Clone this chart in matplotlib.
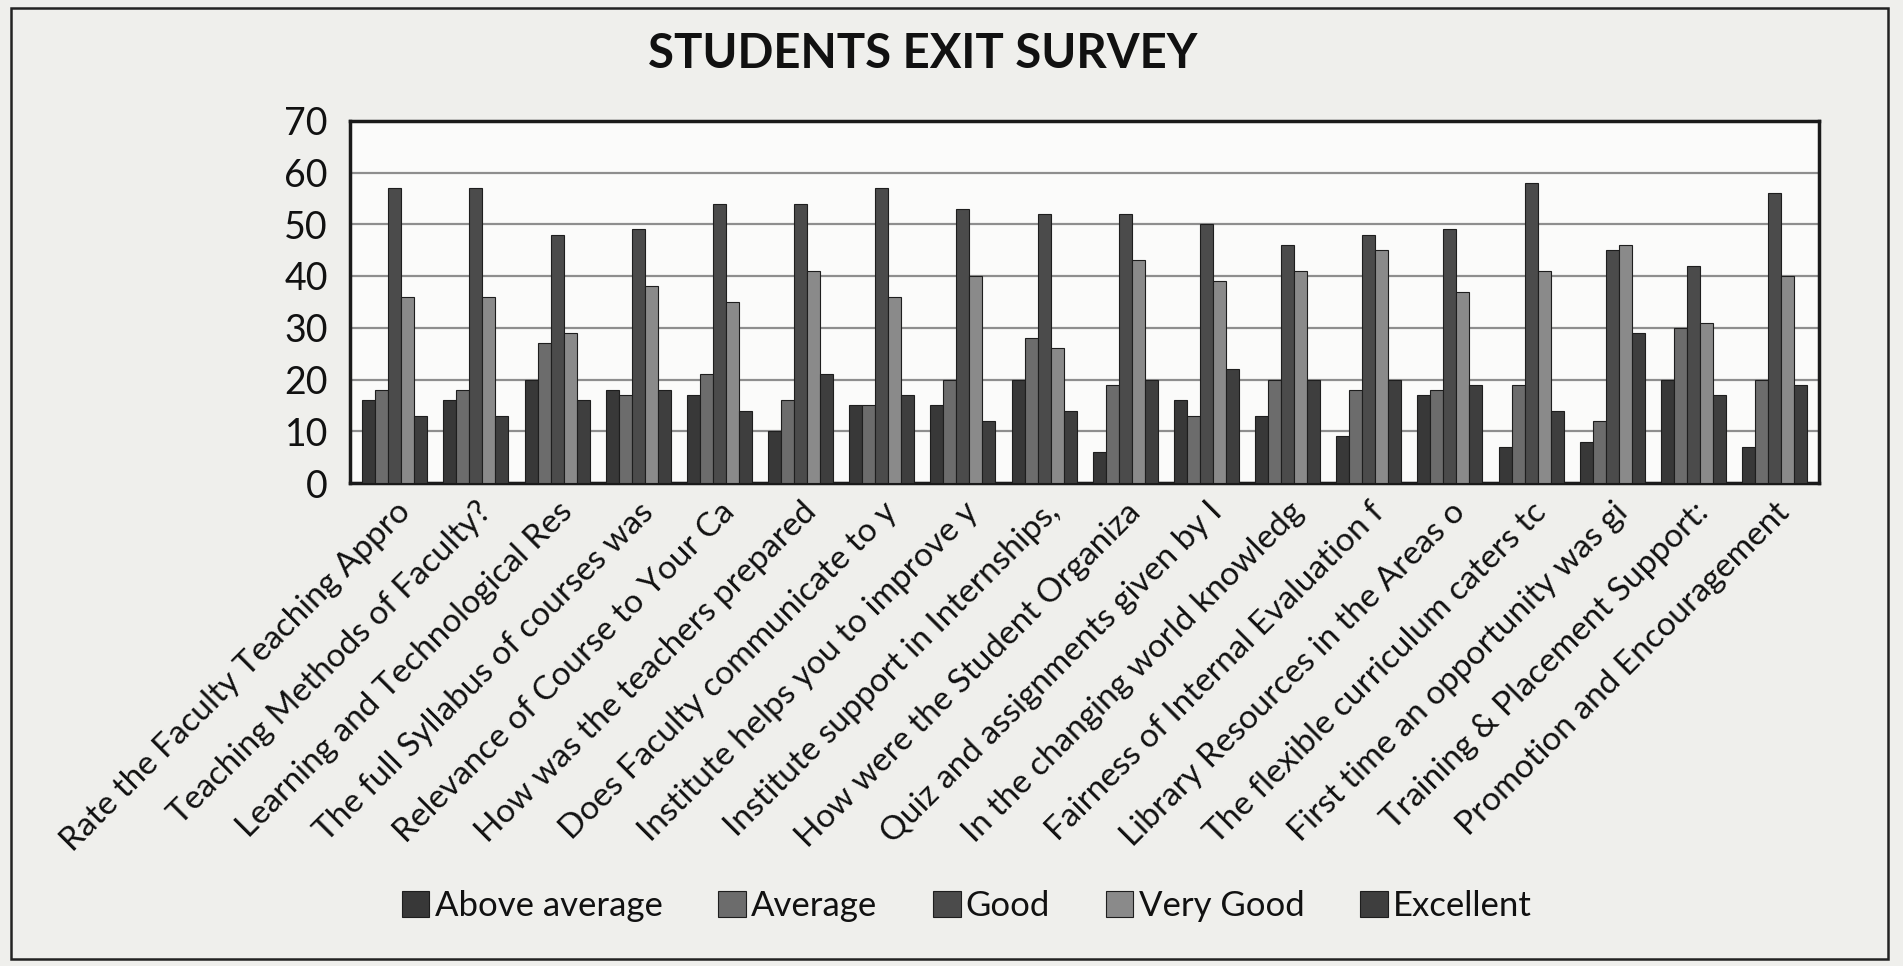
import numpy as np
import matplotlib.pyplot as plt
from matplotlib.patches import Rectangle

plt.rcParams['font.family'] = ['Lato', 'DejaVu Sans']

# Data
questions = [
    "Rate the Faculty Teaching Appro",
    "Teaching Methods of Faculty?",
    "Learning and Technological Res",
    "The full Syllabus of courses was",
    "Relevance of Course to Your Ca",
    "How was the teachers prepared",
    "Does Faculty communicate to y",
    "Institute helps you to improve y",
    "Institute support in Internships,",
    "How were the Student Organiza",
    "Quiz and assignments given by I",
    "In the changing world knowledg",
    "Fairness of Internal Evaluation f",
    "Library Resources in the Areas o",
    "The flexible curriculum caters tc",
    "First time an opportunity was gi",
    "Training & Placement Support:",
    "Promotion and Encouragement",
]
above_average = [16, 16, 20, 18, 17, 10, 15, 15, 20, 6, 16, 13, 9, 17, 7, 8, 20, 7]
average = [18, 18, 27, 17, 21, 16, 15, 20, 28, 19, 13, 20, 18, 18, 19, 12, 30, 20]
good = [57, 57, 48, 49, 54, 54, 57, 53, 52, 52, 50, 46, 48, 49, 58, 45, 42, 56]
very_good = [36, 36, 29, 38, 35, 41, 36, 40, 26, 43, 39, 41, 45, 37, 41, 46, 31, 40]
excellent = [13, 13, 16, 18, 14, 21, 17, 12, 14, 20, 22, 20, 20, 19, 14, 29, 17, 19]

series = ["Above average", "Average", "Good", "Very Good", "Excellent"]
colors = ['#383838', '#6c6c6c', '#4b4b4b', '#8a8a8a', '#3e3e3e']

fig = plt.figure(figsize=(19.03, 9.66), dpi=100)
fig.patch.set_facecolor('#efefec')
fig.patches.append(Rectangle((0.006, 0.007), 0.986, 0.985, transform=fig.transFigure,
                             fill=False, edgecolor='#222222', linewidth=1.8))

ax = fig.add_axes([0.184, 0.5, 0.772, 0.375])
ax.set_facecolor('#fbfbfa')

x = np.arange(len(questions))
w = 0.16
for i, (vals, name) in enumerate(zip([above_average, average, good, very_good, excellent], series)):
    ax.bar(x + (i - 2) * w, vals, w, color=colors[i], label=name,
           edgecolor='#1e1e1e', linewidth=0.8, zorder=3)

ax.set_xlim(-0.55, len(questions) - 0.45)
ax.set_ylim(0, 70)
ax.set_yticks(range(0, 71, 10))
ax.yaxis.grid(True, color='#8e8e8e', linewidth=1.6, zorder=0)
ax.tick_params(axis='y', length=0, labelsize=27, pad=16, labelcolor='#111111')
ax.tick_params(axis='x', length=0, pad=10, labelcolor='#111111')
ax.set_xticks(x)
ax.set_xticklabels(questions, rotation=45, ha='right', rotation_mode='anchor', fontsize=24)
for s in ax.spines.values():
    s.set_linewidth(2.5)
    s.set_color('#1a1a1a')

fig.text(0.485, 0.944, "STUDENTS EXIT SURVEY", ha='center', va='center',
         fontsize=34, fontweight='bold', color='#111111')

fig.legend(loc='center', bbox_to_anchor=(0.508, 0.062), ncol=5, frameon=False,
           fontsize=25, handlelength=0.8, handleheight=0.8, handletextpad=0.15,
           columnspacing=1.6, labelcolor='#111111')

plt.savefig('out.png', dpi=100, facecolor=fig.get_facecolor())
